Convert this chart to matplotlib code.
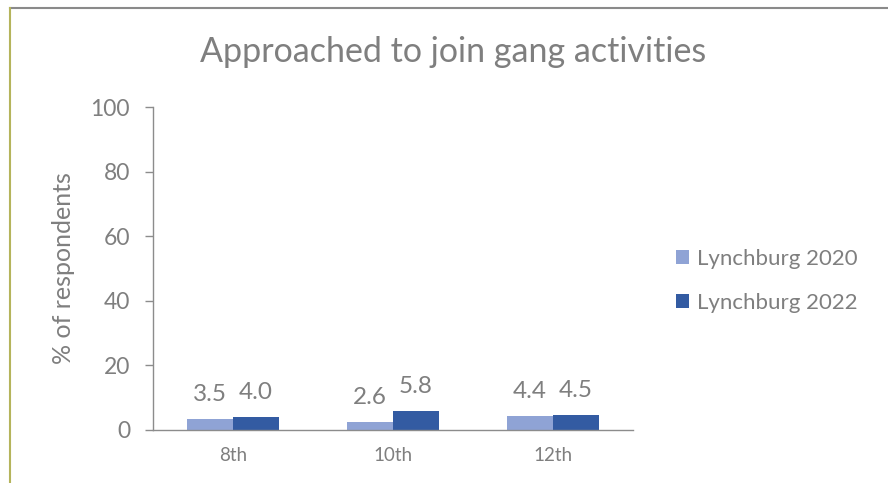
import matplotlib
matplotlib.use("Agg")
import matplotlib.pyplot as plt
from matplotlib.lines import Line2D
import numpy as np

grades = ["8th", "10th", "12th"]
lynchburg_2020 = [3.5, 2.6, 4.4]
lynchburg_2022 = [4.0, 5.8, 4.5]
series_names = ["Lynchburg 2020", "Lynchburg 2022"]
y_ticks = [0, 20, 40, 60, 80, 100]

light_blue = "#8FA3D5"
dark_blue = "#335BA2"
text_gray = "#7F7F7F"
axis_gray = "#8C8C8C"

plt.rcParams["font.family"] = ["Lato", "DejaVu Sans"]

fig = plt.figure(figsize=(8.88, 4.83), dpi=100)
ax = fig.add_axes([153 / 888, 1 - 430 / 483, 480 / 888, 323 / 483])

x = np.arange(len(grades))
w = 0.2875
b1 = ax.bar(x - w / 2, lynchburg_2020, w, color=light_blue, label=series_names[0])
b2 = ax.bar(x + w / 2, lynchburg_2022, w, color=dark_blue, label=series_names[1])

for bars, vals in ((b1, lynchburg_2020), (b2, lynchburg_2022)):
    for rect, v in zip(bars, vals):
        ax.annotate(f"{v:.1f}", (rect.get_x() + rect.get_width() / 2, v),
                    xytext=(0, 13), textcoords="offset points",
                    ha="center", va="baseline", fontsize=17.5, color=text_gray)

ax.set_xlim(-0.5, len(grades) - 0.5)
ax.set_ylim(0, 100)
ax.set_yticks(y_ticks)
ax.set_xticks(x)
ax.set_xticklabels(grades)
ax.tick_params(axis="y", labelsize=16.5, colors=axis_gray, labelcolor=text_gray,
               length=5.5, width=1, pad=11)
ax.tick_params(axis="x", labelsize=13.5, labelcolor=text_gray, length=0, pad=12)
for s in ("top", "right"):
    ax.spines[s].set_visible(False)
for s in ("left", "bottom"):
    ax.spines[s].set_color(axis_gray)
    ax.spines[s].set_linewidth(1)

ax.set_ylabel("% of respondents", fontsize=18, color=text_gray, labelpad=11)

fig.text(453 / 888, 1 - 52 / 483, "Approached to join gang activities",
         ha="center", va="center", fontsize=24.5, color=text_gray)

fig.legend(handles=[b1, b2], loc="center left",
           bbox_to_anchor=(656 / 888, 1 - 281 / 483), frameon=False,
           fontsize=16, labelcolor=text_gray, handlelength=0.6,
           handleheight=0.6, handletextpad=0.36, labelspacing=1.1)

# frame lines of the chart area
fig.add_artist(Line2D([10 / 888, 1], [1 - 8 / 483, 1 - 8 / 483],
                      transform=fig.transFigure, color="#8A8A8A", lw=1.5))
fig.add_artist(Line2D([10 / 888, 10 / 888], [0, 1 - 8 / 483],
                      transform=fig.transFigure, color="#B5B45C", lw=1.5))

fig.savefig("out.png", dpi=100)
